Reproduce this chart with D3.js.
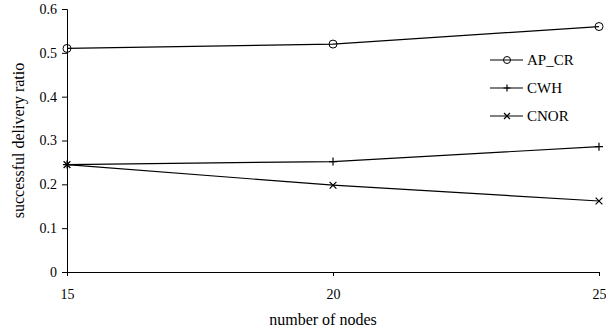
<!DOCTYPE html>
<html>
<head>
<meta charset="utf-8">
<script src="https://cdn.jsdelivr.net/npm/d3@7"></script>
<style>
  body { margin: 0; background: #fff; }
  text { font-family: "Liberation Serif", "Times New Roman", serif; fill: #000; }
</style>
</head>
<body>
<script>
// chart data
const nodes = [15, 20, 25];
const apcr = [0.51, 0.52, 0.56];
const cwh = [0.245, 0.252, 0.286];
const cnor = [0.245, 0.198, 0.162];
const yTicks = [0, 0.1, 0.2, 0.3, 0.4, 0.5, 0.6];
const seriesNames = ['AP_CR', 'CWH', 'CNOR'];

const W = 606, H = 332;
const margin = {top: 9, right: 7, bottom: 60, left: 67};
const width = W - margin.left - margin.right;
const height = H - margin.top - margin.bottom;

const svg = d3.select('body').append('svg')
  .attr('width', W)
  .attr('height', H);

const g = svg.append('g')
  .attr('transform', `translate(${margin.left},${margin.top})`);

const x = d3.scaleLinear().domain([15, 25]).range([0, width]);
const y = d3.scaleLinear().domain([0, 0.6]).range([height, 0]);

// axes
const xAxis = g.append('g')
  .attr('transform', `translate(0,${height})`)
  .call(d3.axisBottom(x).tickValues(nodes).tickSize(4).tickPadding(13).tickFormat(d3.format('d')));
const yAxis = g.append('g')
  .call(d3.axisLeft(y).tickValues(yTicks).tickSize(5).tickPadding(5).tickFormat(d => d === 0 ? '0' : d3.format('.1f')(d)));

[xAxis, yAxis].forEach(a => {
  a.select('.domain').attr('stroke', '#000').attr('stroke-width', 1);
  a.selectAll('.tick line').attr('stroke', '#000');
  a.selectAll('.tick text')
    .style('font-family', '"Liberation Serif", serif')
    .style('font-size', '14px')
    .attr('fill', '#000');
});

// axis titles
svg.append('text')
  .attr('x', margin.left + width / 2 - 10)
  .attr('y', 325)
  .attr('text-anchor', 'middle')
  .style('font-size', '16px')
  .text('number of nodes');

svg.append('text')
  .attr('transform', `translate(24,${margin.top + height / 2}) rotate(-90)`)
  .attr('text-anchor', 'middle')
  .style('font-size', '16px')
  .text('successful delivery ratio');

// series
const series = [apcr, cwh, cnor].map((vals, i) => ({
  name: seriesNames[i],
  pts: vals.map((v, j) => ({x: nodes[j], y: v}))
}));

const line = d3.line().x(d => x(d.x)).y(d => y(d.y));

const drawMarker = (sel, type, r) => {
  if (type === 'AP_CR') {
    sel.append('circle').attr('r', r).attr('fill', 'none').attr('stroke', '#000').attr('stroke-width', 1);
  } else if (type === 'CWH') {
    sel.append('path').attr('d', `M-${r},0H${r}M0,-${r}V${r}`).attr('stroke', '#000').attr('stroke-width', 1.2);
  } else {
    const k = r * 0.85;
    sel.append('path').attr('d', `M-${k},-${k}L${k},${k}M-${k},${k}L${k},-${k}`).attr('stroke', '#000').attr('stroke-width', 1.2);
  }
};

series.forEach(s => {
  g.append('path')
    .datum(s.pts)
    .attr('d', line)
    .attr('fill', 'none')
    .attr('stroke', '#000')
    .attr('stroke-width', 1.2);
  g.selectAll(null)
    .data(s.pts)
    .enter().append('g')
      .attr('transform', d => `translate(${x(d.x)},${y(d.y)})`)
      .each(function () { drawMarker(d3.select(this), s.name, 4); });
});

// legend
const legendY = [60, 88, 116];
const legend = svg.append('g');
seriesNames.forEach((name, i) => {
  const row = legend.append('g').attr('transform', `translate(490,${legendY[i]})`);
  row.append('line').attr('x1', 0).attr('x2', 33).attr('stroke', '#000').attr('stroke-width', 1.2);
  const m = row.append('g').attr('transform', 'translate(17,0)');
  drawMarker(m, name, 3.5);
  row.append('text')
    .attr('x', 37)
    .attr('y', 5)
    .style('font-size', '15px')
    .text(name);
});
</script>
</body>
</html>
